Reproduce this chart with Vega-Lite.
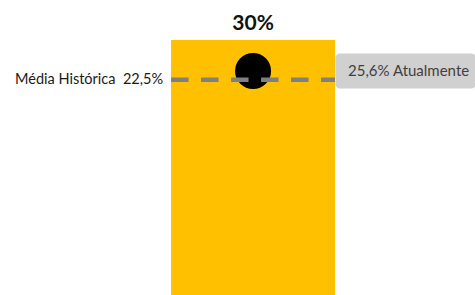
{
  "$schema": "https://vega.github.io/schema/vega-lite/v6.json",
  "width": 475,
  "height": 295,
  "autosize": {"type": "none"},
  "padding": 0,
  "background": "white",
  "config": {
    "view": {"stroke": null},
    "font": "Lato",
    "locale": {"number": {"decimal": ",", "thousands": ".", "grouping": [3], "currency": ["R$ ", ""]}}
  },
  "data": {
    "values": [
      {"cat": "Atual", "total": 0.30, "media": 0.225, "atual": 0.256, "rotuloMedia": "Média Histórica\u00a0 22,5%", "rotuloAtual": "25,6% Atualmente"}
    ]
  },
  "encoding": {
    "x": {"field": "cat", "type": "nominal", "axis": null, "scale": {"paddingInner": 0, "paddingOuter": 0.948, "align": 0.55}}
  },
  "layer": [
    {
      "mark": {"type": "bar", "color": "#FFC000"},
      "encoding": {
        "y": {"field": "total", "type": "quantitative", "axis": null, "scale": {"domain": [0, 0.3471]}}
      }
    },
    {
      "mark": {"type": "text", "fontSize": 21, "fontWeight": "bold", "baseline": "alphabetic", "dy": -10, "color": "#111111"},
      "encoding": {
        "y": {"field": "total", "type": "quantitative", "axis": null, "scale": {"domain": [0, 0.3471]}},
        "text": {"field": "total", "type": "quantitative", "format": ".0%"}
      }
    },
    {
      "mark": {"type": "circle", "color": "#000000", "opacity": 1, "size": 1300},
      "encoding": {
        "y": {"field": "atual", "type": "quantitative", "axis": null, "scale": {"domain": [-0.5423, 0.509]}}
      }
    },
    {
      "mark": {"type": "rule", "color": "#808080", "strokeWidth": 4.5, "strokeDash": [17.5, 12.5]},
      "encoding": {
        "x": {"field": "cat", "type": "nominal", "bandPosition": 0},
        "x2": {"field": "cat", "bandPosition": 1},
        "y": {"field": "media", "type": "quantitative", "axis": null, "scale": {"domain": [-0.5423, 0.509]}}
      }
    },
    {
      "mark": {"type": "rect", "color": "#D0D0D0", "cornerRadius": 4, "width": 140, "height": 35, "xOffset": 152.5},
      "encoding": {
        "y": {"field": "atual", "type": "quantitative", "axis": null, "scale": {"domain": [-0.5423, 0.509]}}
      }
    },
    {
      "mark": {"type": "text", "align": "left", "baseline": "middle", "dx": 13, "fontSize": 15, "color": "#404040"},
      "encoding": {
        "x": {"field": "cat", "type": "nominal", "bandPosition": 1},
        "y": {"field": "atual", "type": "quantitative", "axis": null, "scale": {"domain": [-0.5423, 0.509]}},
        "text": {"field": "rotuloAtual"}
      }
    },
    {
      "mark": {"type": "text", "align": "right", "baseline": "middle", "dx": -8, "fontSize": 14.5, "color": "#1a1a1a"},
      "encoding": {
        "x": {"field": "cat", "type": "nominal", "bandPosition": 0},
        "y": {"field": "media", "type": "quantitative", "axis": null, "scale": {"domain": [-0.5423, 0.509]}},
        "text": {"field": "rotuloMedia"}
      }
    }
  ],
  "resolve": {"scale": {"y": "independent"}}
}
